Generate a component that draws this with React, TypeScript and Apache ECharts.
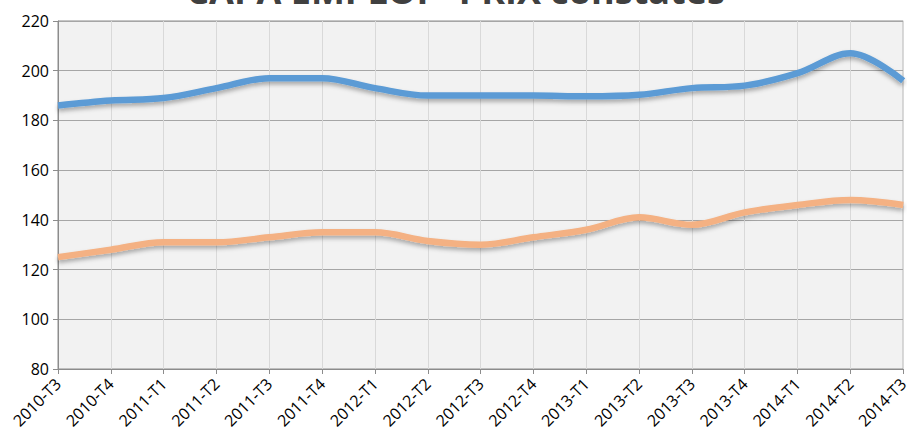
import React, { useEffect, useRef } from "react";
import * as echarts from "echarts";

const categories = [
  "2010-T3", "2010-T4", "2011-T1", "2011-T2", "2011-T3", "2011-T4",
  "2012-T1", "2012-T2", "2012-T3", "2012-T4", "2013-T1", "2013-T2",
  "2013-T3", "2013-T4", "2014-T1", "2014-T2", "2014-T3",
];
const blueSeries = [186, 188, 189, 193, 197, 197, 193, 190, 190, 190, 189.7, 190.3, 193, 194, 199, 207, 196];
const orangeSeries = [125, 128, 131, 131, 133, 135, 135, 131.5, 130, 133, 136, 141, 138, 143, 146, 148, 146];
const titleText = "CAPA EMPLOI - PRIX constatés";

export default function App() {
  const ref = useRef<HTMLDivElement>(null);
  useEffect(() => {
    if (!ref.current) return;
    const chart = echarts.init(ref.current, null, { renderer: "svg" });
    const font = "'Open Sans', 'Noto Sans', sans-serif";
    chart.setOption({
      animation: false,
      grid: {
        left: 58, right: 2, top: 21, bottom: 65,
        show: true, backgroundColor: "#f2f2f2", borderColor: "#8c8c8c", borderWidth: 1,
      },
      graphic: [
        {
          type: "text", left: "center", top: -28,
          style: { text: titleText, font: `bold 36px ${font}`, fill: "#404040" },
          z: 100,
        },
      ],
      xAxis: {
        type: "category", data: categories, boundaryGap: false,
        axisLine: { lineStyle: { color: "#8c8c8c" } },
        axisTick: { show: true, alignWithLabel: true, length: 5, lineStyle: { color: "#8c8c8c" } },
        axisLabel: { rotate: 45, color: "#000", fontFamily: font, fontSize: 16, margin: 12 },
        splitLine: { show: true, lineStyle: { color: "#d9d9d9", width: 1 } },
      },
      yAxis: {
        type: "value", min: 80, max: 220, interval: 20,
        axisLine: { show: true, lineStyle: { color: "#8c8c8c" } },
        axisTick: { show: true, length: 5, lineStyle: { color: "#8c8c8c" } },
        axisLabel: { color: "#000", fontFamily: font, fontSize: 16, margin: 9 },
        splitLine: { show: true, lineStyle: { color: "#a6a6a6", width: 1 } },
      },
      series: [
        {
          type: "line", data: blueSeries, smooth: 0.35, symbol: "none",
          lineStyle: { color: "#5b9bd5", width: 6.5, shadowColor: "rgba(0,0,0,0.3)", shadowBlur: 4, shadowOffsetY: 3 },
        },
        {
          type: "line", data: orangeSeries, smooth: 0.35, symbol: "none",
          lineStyle: { color: "#f4b183", width: 6.5, shadowColor: "rgba(0,0,0,0.3)", shadowBlur: 4, shadowOffsetY: 3 },
        },
      ],
    });
    return () => chart.dispose();
  }, []);
  return (
    <div
      ref={ref}
      style={{ position: "fixed", left: 0, top: 0, width: 911, height: 434, background: "#fff" }}
    />
  );
}
